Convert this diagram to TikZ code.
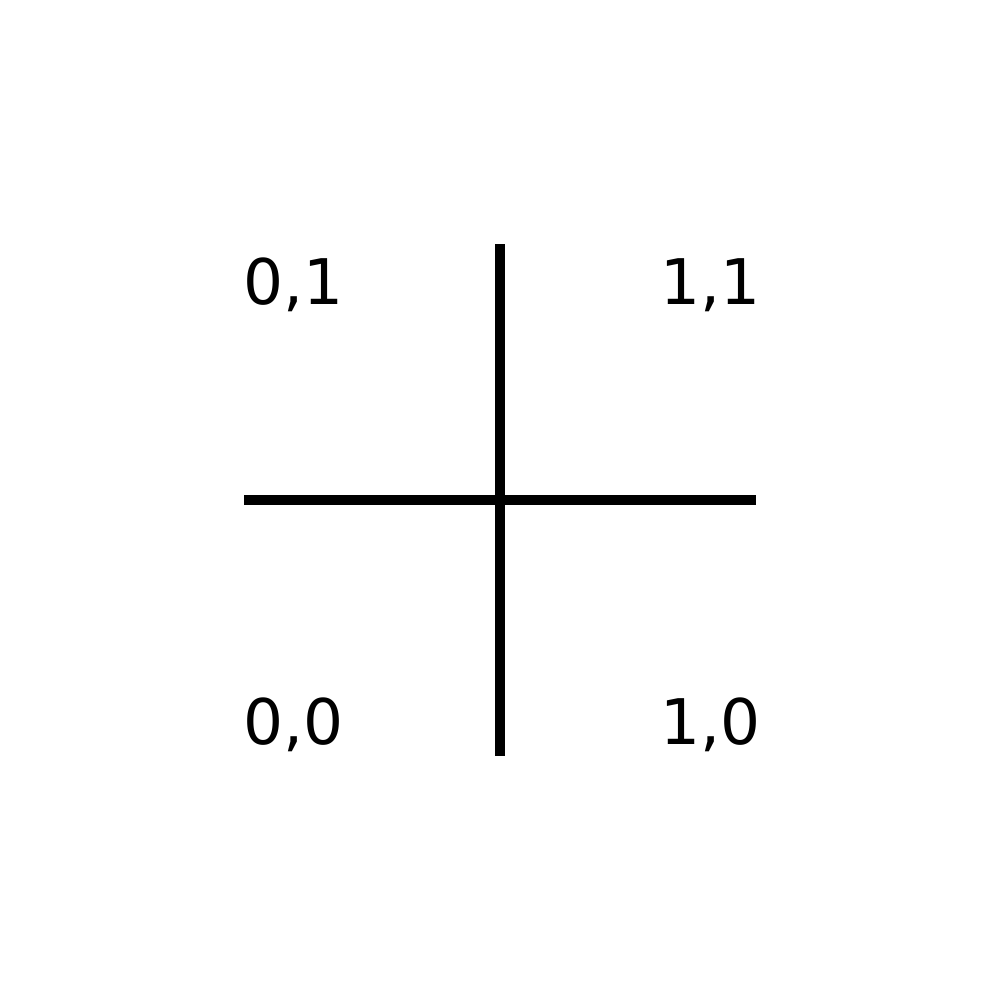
\documentclass[tikz,border=0pt]{standalone}
\usepackage{fontspec}
\setmainfont{DejaVu Sans}
\usepackage{tikz}
\usetikzlibrary{positioning, calc}

\begin{document}
\begin{tikzpicture}[
    axis/.style={line width=0.1cm, draw=black},
    corner/.style={inner sep=0pt, font=\fontsize{17.9}{22}\selectfont}
]
\useasboundingbox (0,0) rectangle (10,10);

% Axis end points
\coordinate (top) at (5,7.56);
\coordinate (bottom) at (5,2.44);
\coordinate (left) at (2.44,5);
\coordinate (right) at (7.56,5);

% Cross
\draw[axis] (left) -- (right);
\draw[axis] (bottom) -- (top);

% Corner labels
\node[corner, anchor=base west] (lab01) at (2.43,6.95) {0,1};
\node[corner, anchor=base east] (lab11) at (7.61,6.95) {1,1};
\node[corner, anchor=base west] (lab00) at (2.43,2.55) {0,0};
\node[corner, anchor=base east] (lab10) at (7.61,2.55) {1,0};

\end{tikzpicture}
\end{document}
